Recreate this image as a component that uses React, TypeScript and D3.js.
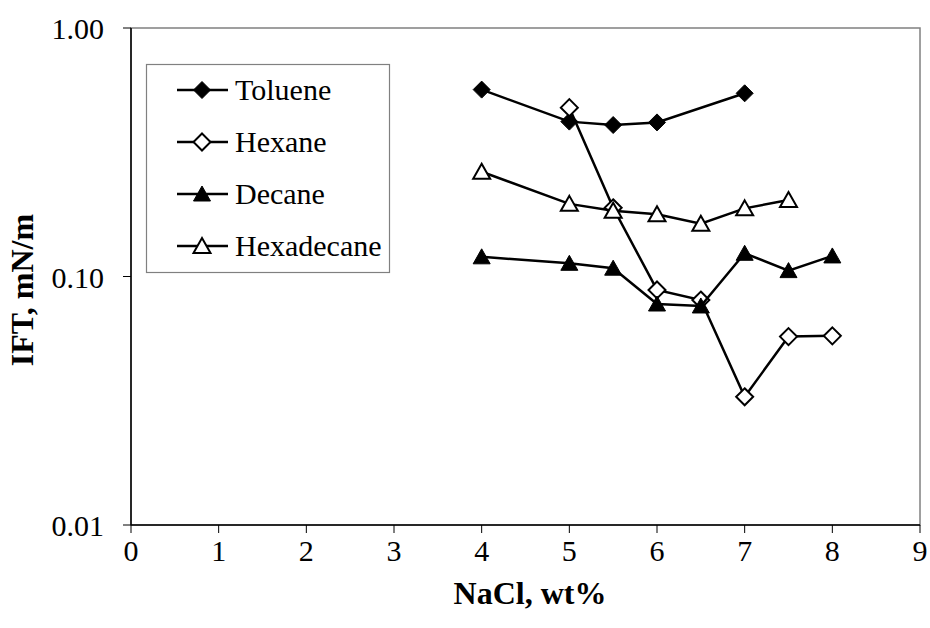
import React from "react";
import * as d3 from "d3";

const xTicks = [0, 1, 2, 3, 4, 5, 6, 7, 8, 9];
const yTicks = [1, 0.1, 0.01];
const yTickLabels = ["1.00", "0.10", "0.01"];

const tolueneX = [4, 5, 5.5, 6, 7];
const tolueneY = [0.565, 0.42, 0.407, 0.417, 0.546];
const hexaneX = [5, 5.5, 6, 6.5, 7, 7.5, 8];
const hexaneY = [0.478, 0.189, 0.0883, 0.0804, 0.0328, 0.0573, 0.0577];
const decaneX = [4, 5, 5.5, 6, 6.5, 7, 7.5, 8];
const decaneY = [0.12, 0.113, 0.108, 0.0775, 0.0761, 0.124, 0.1056, 0.121];
const hexadecaneX = [4, 5, 5.5, 6, 6.5, 7, 7.5];
const hexadecaneY = [0.264, 0.196, 0.184, 0.178, 0.163, 0.188, 0.203];

const seriesNames = ["Toluene", "Hexane", "Decane", "Hexadecane"];

type Marker = "diamondFilled" | "diamondOpen" | "triFilled" | "triOpen";

const series: { name: string; xs: number[]; ys: number[]; marker: Marker }[] = [
  { name: seriesNames[0], xs: tolueneX, ys: tolueneY, marker: "diamondFilled" },
  { name: seriesNames[1], xs: hexaneX, ys: hexaneY, marker: "diamondOpen" },
  { name: seriesNames[2], xs: decaneX, ys: decaneY, marker: "triFilled" },
  { name: seriesNames[3], xs: hexadecaneX, ys: hexadecaneY, marker: "triOpen" },
];

const FONT = "Liberation Serif, DejaVu Serif, serif";

function MarkerShape({ type, cx, cy }: { type: Marker; cx: number; cy: number }) {
  if (type === "diamondFilled" || type === "diamondOpen") {
    const r = 8.5;
    const d = `M${cx},${cy - r}L${cx + r},${cy}L${cx},${cy + r}L${cx - r},${cy}Z`;
    return type === "diamondFilled" ? (
      <path d={d} fill="#000" stroke="#000" strokeWidth={1} />
    ) : (
      <path d={d} fill="#fff" stroke="#000" strokeWidth={2} />
    );
  }
  const h = 14;
  const w = 17;
  const d = `M${cx},${cy - h / 2 - 1}L${cx + w / 2},${cy + h / 2}L${cx - w / 2},${cy + h / 2}Z`;
  return type === "triFilled" ? (
    <path d={d} fill="#000" stroke="#000" strokeWidth={1} />
  ) : (
    <path d={d} fill="#fff" stroke="#000" strokeWidth={2} />
  );
}

export default function App() {
  const width = 930;
  const height = 628;
  const left = 131;
  const right = 920;
  const top = 28;
  const bottom = 525;

  const x = d3.scaleLinear().domain([0, 9]).range([left, right]);
  const y = d3.scaleLog().domain([0.01, 1]).range([bottom, top]);

  const line = d3
    .line<[number, number]>()
    .x((d) => x(d[0]))
    .y((d) => y(d[1]));

  const legendX = 146.5;
  const legendY = 64.5;
  const legendW = 243;
  const legendH = 208;
  const rowY = [90, 142, 194, 246];

  return (
    <svg
      width={width}
      height={height}
      style={{ position: "absolute", left: 0, top: 0, background: "#fff", fontFamily: FONT }}
    >
      <rect x={0} y={0} width={width} height={height} fill="#fff" />
      <rect x={left} y={top} width={right - left} height={bottom - top} fill="none" stroke="#808080" strokeWidth={1.5} />
      <line x1={left} y1={top} x2={left} y2={bottom} stroke="#000" strokeWidth={1.5} />
      <line x1={left} y1={bottom} x2={right} y2={bottom} stroke="#000" strokeWidth={1.5} />

      {yTicks.map((t, i) => (
        <g key={"yt" + i}>
          <line x1={left - 8} x2={left} y1={y(t)} y2={y(t)} stroke="#000" strokeWidth={1} />
          <text x={left - 27} y={y(t) + 11} textAnchor="end" fontSize={30} style={{ fontFamily: FONT }}>
            {yTickLabels[i]}
          </text>
        </g>
      ))}
      {xTicks.map((t) => (
        <g key={"xt" + t}>
          <line x1={x(t)} x2={x(t)} y1={bottom} y2={bottom + 8} stroke="#000" strokeWidth={1} />
          <text x={x(t)} y={561} textAnchor="middle" fontSize={30} style={{ fontFamily: FONT }}>
            {t}
          </text>
        </g>
      ))}

      <text x={530} y={604} textAnchor="middle" fontSize={32} fontWeight="bold" style={{ fontFamily: FONT }}>
        NaCl, wt%
      </text>
      <text
        transform={`translate(33,290) rotate(-90)`}
        textAnchor="middle"
        fontSize={32}
        fontWeight="bold"
        style={{ fontFamily: FONT }}
      >
        IFT, mN/m
      </text>

      {series.map((s) => {
        const pts: [number, number][] = s.xs.map((v, i) => [v, s.ys[i]]);
        return (
          <g key={s.name}>
            <path d={line(pts) || ""} fill="none" stroke="#000" strokeWidth={2.5} />
            {pts.map((p, i) => (
              <MarkerShape key={i} type={s.marker} cx={x(p[0])} cy={y(p[1])} />
            ))}
          </g>
        );
      })}

      <rect x={legendX} y={legendY} width={legendW} height={legendH} fill="#fff" stroke="#808080" strokeWidth={1.2} />
      {series.map((s, i) => (
        <g key={"lg" + s.name}>
          <line x1={177} x2={228} y1={rowY[i]} y2={rowY[i]} stroke="#000" strokeWidth={2.5} />
          <MarkerShape type={s.marker} cx={202} cy={rowY[i]} />
          <text x={235} y={rowY[i] + 10} fontSize={30} style={{ fontFamily: FONT }}>
            {s.name}
          </text>
        </g>
      ))}
    </svg>
  );
}
